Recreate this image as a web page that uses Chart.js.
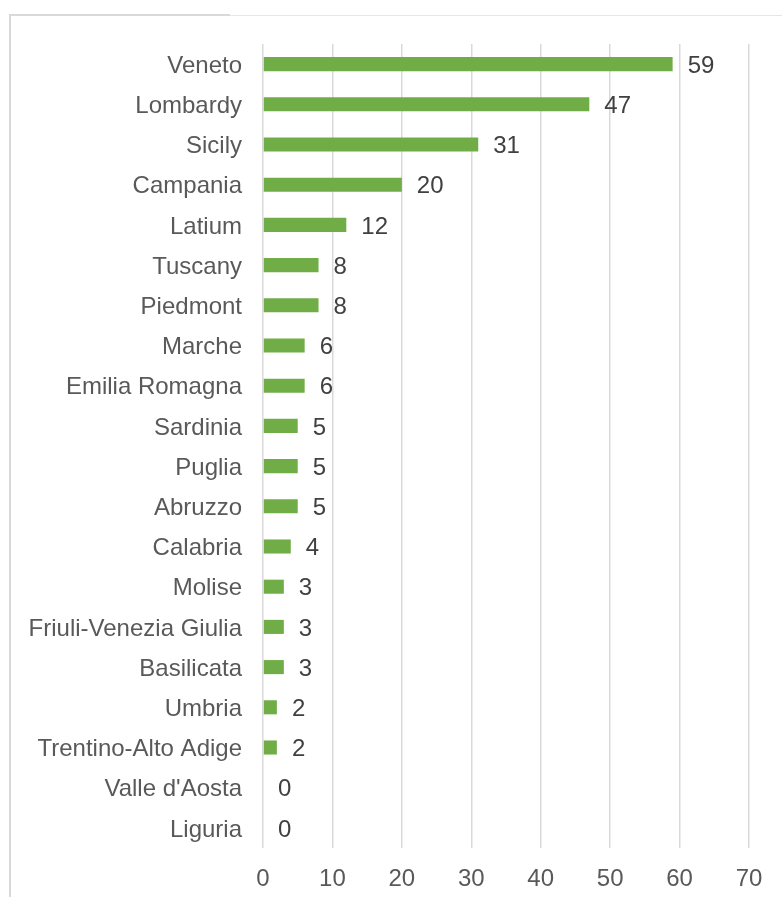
<!DOCTYPE html>
<html>
<head>
<meta charset="utf-8">
<script src="https://cdn.jsdelivr.net/npm/chart.js@4.4.1/dist/chart.umd.min.js"></script>
<style>
  html, body { margin: 0; padding: 0; background: #fff; }
  #wrap { position: relative; width: 782px; height: 897px; }
  .frame-left { position: absolute; left: 9px; top: 14px; width: 2px; height: 883px; background: #d9d9d9; }
  .frame-top-a { position: absolute; left: 9px; top: 14px; width: 221px; height: 2px; background: #d9d9d9; }
  .frame-top-b { position: absolute; left: 230px; top: 15px; width: 552px; height: 1px; background: #e6e6e6; }
  canvas { position: absolute; left: 0; top: 0; }
</style>
</head>
<body>
<div id="wrap">
  <div class="frame-left"></div>
  <div class="frame-top-a"></div>
  <div class="frame-top-b"></div>
  <canvas id="regionChart" width="782" height="897"></canvas>
</div>
<script>
// Regions and counts
const regions = [
  'Veneto', 'Lombardy', 'Sicily', 'Campania', 'Latium', 'Tuscany', 'Piedmont',
  'Marche', 'Emilia Romagna', 'Sardinia', 'Puglia', 'Abruzzo', 'Calabria',
  'Molise', 'Friuli-Venezia Giulia', 'Basilicata', 'Umbria',
  'Trentino-Alto Adige', "Valle d'Aosta", 'Liguria'
];
const counts = [59, 47, 31, 20, 12, 8, 8, 6, 6, 5, 5, 5, 4, 3, 3, 3, 2, 2, 0, 0];
const xTicks = [0, 10, 20, 30, 40, 50, 60, 70];

const fontFamily = '"Liberation Sans", Arial, sans-serif';

// Write the value just past the end of each bar
const valueLabels = {
  id: 'valueLabels',
  afterDatasetsDraw(chart) {
    const ctx = chart.ctx;
    const xScale = chart.scales.x;
    const meta = chart.getDatasetMeta(0);
    ctx.save();
    ctx.font = '24px ' + fontFamily;
    ctx.fillStyle = '#404040';
    ctx.textAlign = 'left';
    ctx.textBaseline = 'middle';
    meta.data.forEach((bar, i) => {
      const x = xScale.getPixelForValue(counts[i]) + 15;
      ctx.fillText(String(counts[i]), x, bar.y + 2);
    });
    ctx.restore();
  }
};

new Chart(document.getElementById('regionChart'), {
  type: 'bar',
  data: {
    labels: regions,
    datasets: [{
      data: counts,
      backgroundColor: '#70ad47',
      borderWidth: 0,
      barPercentage: 0.7,
      categoryPercentage: 0.5
    }]
  },
  options: {
    indexAxis: 'y',
    responsive: false,
    animation: false,
    layout: { padding: { left: 0, top: 44, right: 33, bottom: 0 } },
    plugins: {
      legend: { display: false },
      tooltip: { enabled: false }
    },
    scales: {
      x: {
        min: 0,
        max: 70,
        afterBuildTicks: (scale) => {
          scale.ticks = xTicks.map(v => ({ value: v }));
        },
        afterFit: (scale) => { scale.height = 49; },
        grid: { color: '#d9d9d9', lineWidth: 1.5, drawTicks: false },
        border: { display: false },
        ticks: {
          padding: 17,
          color: '#595959',
          font: { family: fontFamily, size: 24 }
        }
      },
      y: {
        afterFit: (scale) => { scale.width = 263; },
        grid: { display: false, drawTicks: false },
        border: { display: false },
        ticks: {
          padding: 21,
          labelOffset: 2,
          autoSkip: false,
          color: '#595959',
          font: { family: fontFamily, size: 24 }
        }
      }
    }
  },
  plugins: [valueLabels]
});
</script>
</body>
</html>
